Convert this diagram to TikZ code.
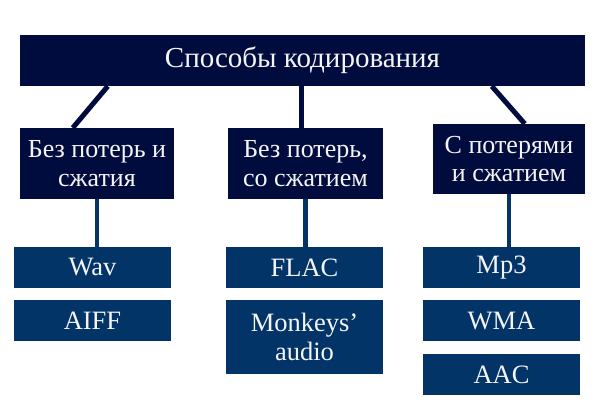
\documentclass[tikz,border=0pt]{standalone}
\usepackage{fontspec}
\setmainfont{Liberation Serif}
\usetikzlibrary{calc}
\definecolor{darknavy}{RGB}{0,12,62}
\definecolor{midblue}{RGB}{2,52,104}
\definecolor{txt}{RGB}{245,245,245}
\begin{document}
\begin{tikzpicture}[x=1pt,y=1pt,
  topbox/.style={fill=darknavy,text=txt,inner sep=0pt,align=center},
  catbox/.style={fill=darknavy,text=txt,inner sep=0pt,align=center,font=\fontsize{26}{28.5}\selectfont},
  itembox/.style={fill=midblue,text=txt,inner sep=0pt,align=center,font=\fontsize{26.5}{29}\selectfont},
  upline/.style={draw=darknavy,line width=5pt},
  lowline/.style={draw=midblue,line width=4.5pt}]
\useasboundingbox (0,0) rectangle (600,-416);
\fill[white] (0,0) rectangle (600,-416);
\node[topbox,minimum width=565pt,minimum height=51pt,font=\fontsize{29}{30}\selectfont] (top) at (302.5,-60.5) {Способы кодирования};
\node[catbox,minimum width=154pt,minimum height=71pt] (b1) at (97,-163.5) {Без потерь и\\сжатия};
\node[catbox,minimum width=155pt,minimum height=71pt] (b2) at (305.5,-163.5) {Без потерь,\\со сжатием};
\node[catbox,minimum width=152pt,minimum height=70pt] (b3) at (509,-159) {С потерями\\и сжатием};
\node[itembox,minimum width=157pt,minimum height=41pt] (wav) at (92.5,-267.5) {Wav};
\node[itembox,minimum width=157pt,minimum height=41pt] (aiff) at (92.5,-320.5) {AIFF};
\node[itembox,minimum width=157pt,minimum height=41pt] (flac) at (304.5,-267.5) {FLAC};
\node[itembox,minimum width=157pt,minimum height=74pt] (monk) at (304.5,-337) {Monkeys’\\audio};
\node[itembox,minimum width=157pt,minimum height=41pt] (mp3) at (501.5,-267.5) {Mp3};
\node[itembox,minimum width=157pt,minimum height=41pt] (wma) at (501.5,-320.5) {WMA};
\node[itembox,minimum width=157pt,minimum height=41pt] (aac) at (501.5,-374.5) {AAC};
\draw[upline] ($(top.south west)+(88,0)$) -- ($(b1.north west)+(53,0)$);
\draw[upline] ($(b2.north west)+(74,0)$) -- ($(top.south west)+(282,0)$);
\draw[upline] ($(top.south west)+(472,0)$) -- ($(b3.north west)+(92,0)$);
\draw[lowline] (b1.south) -- (b1.south |- wav.north);
\draw[lowline] (b2.south) -- (b2.south |- flac.north);
\draw[lowline] (b3.south) -- (b3.south |- mp3.north);
\end{tikzpicture}
\end{document}
